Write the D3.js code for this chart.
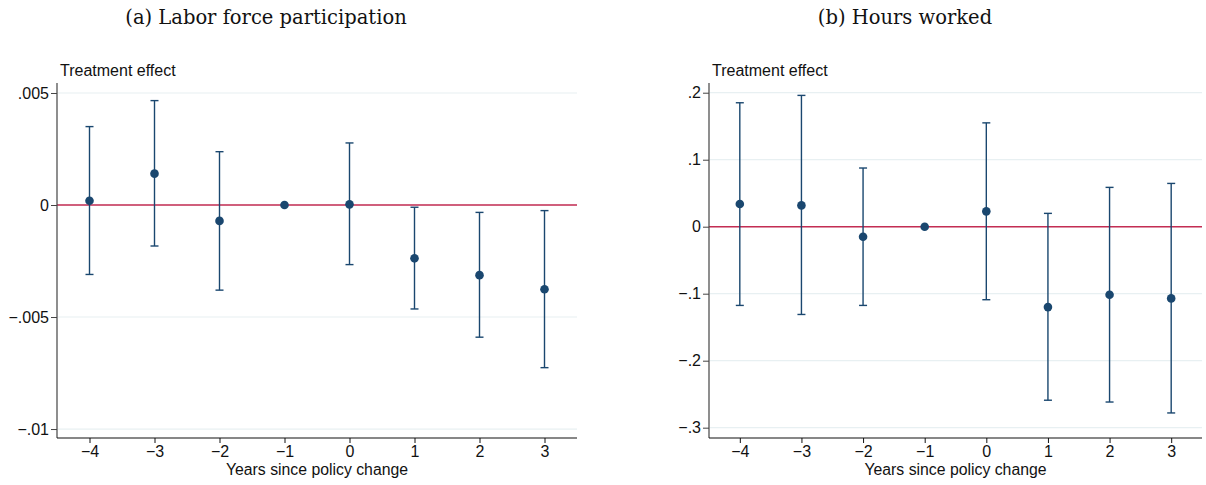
<!DOCTYPE html>
<html>
<head>
<meta charset="utf-8">
<script src="https://cdn.jsdelivr.net/npm/d3@7"></script>
<style>
  body { margin: 0; background: #fff; }
  svg text { font-family: "Liberation Sans", Arial, sans-serif; fill: #111; }
  .title { font-family: "DejaVu Serif", "Liberation Serif", serif; }
</style>
</head>
<body>
<div id="chart"></div>
<script>
// Event-time periods
const years = [-4, -3, -2, -1, 0, 1, 2, 3];

// (a) Labor force participation
const lfpEst = [0.00019, 0.0014, -0.00071, 0, 0.00003, -0.00238, -0.00313, -0.00376];
const lfpLo = [-0.0031, -0.00183, -0.0038, null, -0.00266, -0.00464, -0.0059, -0.00726];
const lfpHi = [0.0035, 0.00466, 0.00238, null, 0.00277, -0.0001, -0.00033, -0.00025];
const lfpTicks = [0.005, 0, -0.005, -0.01];
const lfpTickLabels = [".005", "0", "\u2212.005", "\u2212.01"];

// (b) Hours worked
const hrsEst = [0.0339, 0.0318, -0.0149, 0, 0.0229, -0.12, -0.1015, -0.107];
const hrsLo = [-0.1175, -0.131, -0.1175, null, -0.109, -0.259, -0.2617, -0.278];
const hrsHi = [0.185, 0.196, 0.0876, null, 0.155, 0.0199, 0.0587, 0.0646];
const hrsTicks = [0.2, 0.1, 0, -0.1, -0.2, -0.3];
const hrsTickLabels = [".2", ".1", "0", "\u2212.1", "\u2212.2", "\u2212.3"];

const width = 1206;
const height = 485;

const svg = d3.select("#chart")
    .append("svg")
    .attr("width", width)
    .attr("height", height);

const navy = "#1a476f";
const red = "#c42d53";
const grid = "#e8f0f2";

function drawPanel(opts) {
    const x = d3.scaleLinear().domain([-4.5, 3.5]).range([opts.left, opts.right]);
    const y = d3.scaleLinear().domain(opts.yDomain).range([opts.bottom, opts.top]);
    const g = svg.append("g");

    // title
    g.append("text")
        .attr("class", "title")
        .attr("x", opts.titleX)
        .attr("y", 23.5)
        .attr("text-anchor", "middle")
        .style("font-size", "19.5px")
        .text(opts.title);

    // gridlines
    g.selectAll(".grid")
        .data(opts.ticks)
        .join("line")
        .attr("x1", opts.left + 1)
        .attr("x2", opts.right)
        .attr("y1", d => y(d))
        .attr("y2", d => y(d))
        .attr("stroke", grid)
        .attr("stroke-width", 1.2);

    // zero line
    g.append("line")
        .attr("x1", opts.left)
        .attr("x2", opts.right)
        .attr("y1", y(0))
        .attr("y2", y(0))
        .attr("stroke", red)
        .attr("stroke-width", 1.6);

    // y axis
    const yAxis = d3.axisLeft(y)
        .tickValues(opts.ticks)
        .tickSize(6)
        .tickPadding(2)
        .tickFormat((d, i) => opts.tickLabels[i]);
    const ya = g.append("g")
        .attr("transform", `translate(${opts.left},0)`)
        .call(yAxis);
    ya.select(".domain").attr("stroke", "#444").attr("stroke-width", 1.2)
        .attr("d", `M0,${opts.top}V${opts.bottom}`);
    ya.selectAll(".tick line").attr("stroke", "#444");
    ya.selectAll(".tick text").style("font-size", "16px").attr("fill", "#111");

    // x axis
    const xAxis = d3.axisBottom(x)
        .tickValues(years)
        .tickSize(5)
        .tickPadding(3)
        .tickFormat(d => d < 0 ? "\u2212" + Math.abs(d) : d);
    const xa = g.append("g")
        .attr("transform", `translate(0,${opts.bottom})`)
        .call(xAxis);
    xa.select(".domain").attr("stroke", "#111").attr("stroke-width", 1.2)
        .attr("d", `M${opts.left},0H${opts.right}`);
    xa.selectAll(".tick line").attr("stroke", "#111");
    xa.selectAll(".tick text").style("font-size", "16px").attr("fill", "#111");

    // axis titles
    g.append("text")
        .attr("x", opts.left + 3)
        .attr("y", 76)
        .style("font-size", "16px")
        .text("Treatment effect");
    g.append("text")
        .attr("x", (opts.left + opts.right) / 2)
        .attr("y", 475)
        .attr("text-anchor", "middle")
        .style("font-size", "15.8px")
        .text("Years since policy change");

    // confidence intervals
    const rows = years.map((yr, i) => ({ yr, est: opts.est[i], lo: opts.lo[i], hi: opts.hi[i] }));
    const ci = rows.filter(d => d.lo !== null);
    g.selectAll(".ci")
        .data(ci)
        .join("line")
        .attr("x1", d => x(d.yr))
        .attr("x2", d => x(d.yr))
        .attr("y1", d => y(d.lo))
        .attr("y2", d => y(d.hi))
        .attr("stroke", navy)
        .attr("stroke-width", 1.4);
    ["lo", "hi"].forEach(k => {
        g.selectAll(".cap-" + k)
            .data(ci)
            .join("line")
            .attr("x1", d => x(d.yr) - 4)
            .attr("x2", d => x(d.yr) + 4)
            .attr("y1", d => y(d[k]))
            .attr("y2", d => y(d[k]))
            .attr("stroke", navy)
            .attr("stroke-width", 1.4);
    });

    // point estimates
    g.selectAll(".pt")
        .data(rows)
        .join("circle")
        .attr("cx", d => x(d.yr))
        .attr("cy", d => y(d.est))
        .attr("r", 4.3)
        .attr("fill", navy);
}

drawPanel({
    title: "(a) Labor force participation",
    titleX: 266,
    left: 57, right: 577, top: 83, bottom: 438,
    yDomain: [-0.0104, 0.005446],
    ticks: lfpTicks, tickLabels: lfpTickLabels,
    est: lfpEst, lo: lfpLo, hi: lfpHi
});

drawPanel({
    title: "(b) Hours worked",
    titleX: 905,
    left: 709, right: 1202, top: 83, bottom: 438,
    yDomain: [-0.3154, 0.2145],
    ticks: hrsTicks, tickLabels: hrsTickLabels,
    est: hrsEst, lo: hrsLo, hi: hrsHi
});
</script>
</body>
</html>
